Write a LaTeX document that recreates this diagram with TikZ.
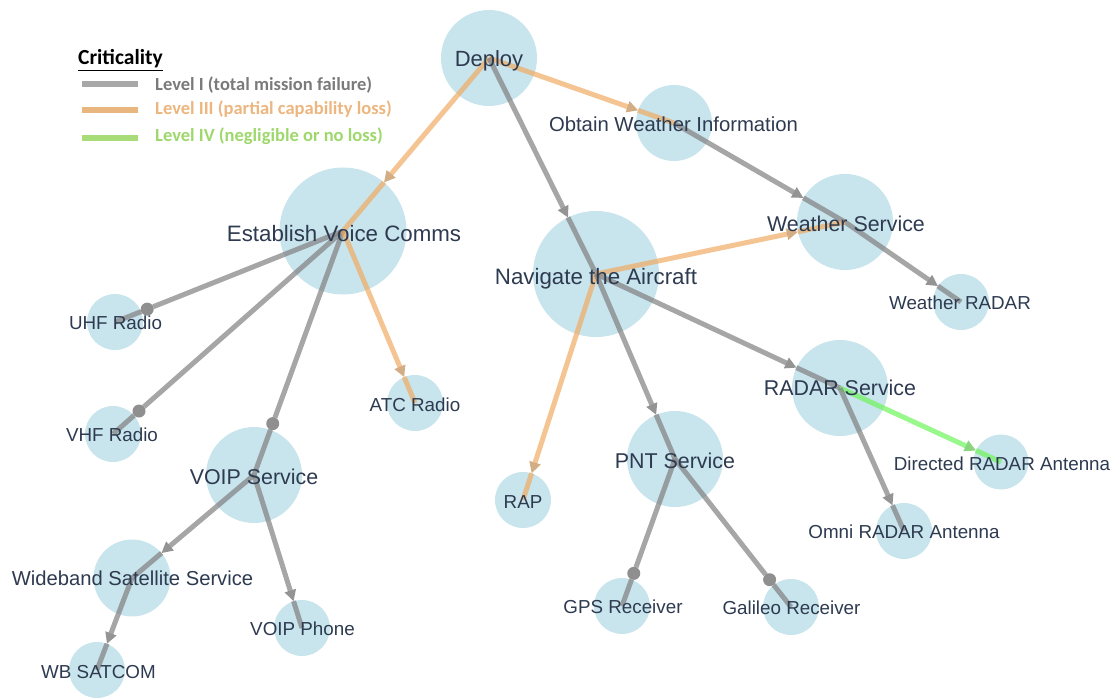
\documentclass[tikz,border=0pt]{standalone}
\usepackage{fontspec}
\setmainfont{Liberation Sans}
\newfontfamily\legendfont{Carlito}
\usetikzlibrary{arrows.meta}

\definecolor{bubble}{RGB}{200,228,236}
\definecolor{lvlone}{RGB}{128,128,128}
\definecolor{lvlthree}{RGB}{240,172,100}
\definecolor{lvlfour}{RGB}{110,245,90}
\definecolor{labeltext}{RGB}{45,58,80}
\definecolor{keyone}{RGB}{168,168,168}
\definecolor{keythree}{RGB}{233,182,128}
\definecolor{keyfour}{RGB}{168,220,120}
\definecolor{keyonetext}{RGB}{122,122,122}
\definecolor{keythreetext}{RGB}{236,182,126}
\definecolor{keyfourtext}{RGB}{158,216,108}

\tikzset{
  bubblenode/.style={circle, fill=bubble, inner sep=0pt, minimum size=#1},
  tag/.style={anchor=base, inner sep=0pt, text=labeltext,
    font=\fontsize{#1}{#1}\selectfont},
  link/.style={line width=5pt, opacity=0.7},
  keyline/.style={line width=6.3pt},
  keytext/.style={anchor=base west, inner sep=0pt,
    font=\legendfont\bfseries\fontsize{18.5}{18.5}\selectfont},
}

% A link runs from the source centre to the target centre; its tip sits
% on the border of the target bubble.
\newcommand\linkto[4]{%
  \path (#3.center) -- (#4) coordinate[pos=1] (#3-#4);
  \draw[link, draw=#1, -{#2}] (#3.center) -- (#3-#4);
  \draw[link, draw=#1] (#3-#4) -- (#4.center);
}
\newcommand\headlink[3]{\linkto{#1}{Triangle[length=11pt,width=12pt,line width=0pt,color=#1!80!black]}{#2}{#3}}
\newcommand\knoblink[3]{\linkto{#1}{Circle[length=13pt,line width=0pt,color=#1!75!black]}{#2}{#3}}

\begin{document}
\begin{tikzpicture}[x=1pt, y=-1pt]
\useasboundingbox (0,0) rectangle (1117,698);

% bubbles
\node[bubblenode=96pt]  (dep) at (489,58)  {};
\node[bubblenode=76pt]  (owi) at (674,123) {};
\node[bubblenode=127pt] (evc) at (343,231) {};
\node[bubblenode=96pt]  (wsv) at (845,222) {};
\node[bubblenode=126pt] (nav) at (596,274) {};
\node[bubblenode=56pt]  (wrd) at (961,302) {};
\node[bubblenode=56pt]  (uhf) at (115,322) {};
\node[bubblenode=96pt]  (rds) at (840,388) {};
\node[bubblenode=56pt]  (atc) at (415,403) {};
\node[bubblenode=56pt]  (vhf) at (113,434) {};
\node[bubblenode=96pt]  (vps) at (254,475) {};
\node[bubblenode=96pt]  (pnt) at (675,459) {};
\node[bubblenode=55pt]  (dra) at (1001,462) {};
\node[bubblenode=56pt]  (rap) at (523,500) {};
\node[bubblenode=56pt]  (omn) at (904,531) {};
\node[bubblenode=77pt]  (wbs) at (132,578) {};
\node[bubblenode=56pt]  (gps) at (622,606) {};
\node[bubblenode=56pt]  (gal) at (791,607) {};
\node[bubblenode=56pt]  (vph) at (302,628) {};
\node[bubblenode=56pt]  (wbc) at (97,670)  {};

% links
\headlink{lvlthree}{dep}{owi}
\headlink{lvlthree}{dep}{evc}
\headlink{lvlone}{dep}{nav}
\headlink{lvlone}{owi}{wsv}
\headlink{lvlone}{wsv}{wrd}
\headlink{lvlthree}{nav}{wsv}
\headlink{lvlthree}{nav}{rap}
\headlink{lvlone}{nav}{pnt}
\headlink{lvlone}{nav}{rds}
\headlink{lvlfour}{rds}{dra}
\headlink{lvlone}{rds}{omn}
\knoblink{lvlone}{pnt}{gps}
\knoblink{lvlone}{pnt}{gal}
\knoblink{lvlone}{evc}{uhf}
\knoblink{lvlone}{evc}{vhf}
\knoblink{lvlone}{evc}{vps}
\headlink{lvlthree}{evc}{atc}
\headlink{lvlone}{vps}{wbs}
\headlink{lvlone}{vps}{vph}
\headlink{lvlone}{wbs}{wbc}

% labels
\node[tag=22]   (dep-t) at (489,67)    {Deploy};
\node[tag=20.3] (owi-t) at (673.5,132) {Obtain Weather Information};
\node[tag=22.3] (evc-t) at (344,241)   {Establish Voice Comms};
\node[tag=21.4] (wsv-t) at (846,231)   {Weather Service};
\node[tag=22.3] (nav-t) at (596,284)   {Navigate the Aircraft};
\node[tag=18.8] (wrd-t) at (960,309)   {Weather RADAR};
\node[tag=18.8] (uhf-t) at (115.5,329) {UHF Radio};
\node[tag=21.4] (rds-t) at (840,395)   {RADAR Service};
\node[tag=18.8] (atc-t) at (415,411)   {ATC Radio};
\node[tag=18.8] (vhf-t) at (112,441)   {VHF Radio};
\node[tag=21.4] (vps-t) at (254,484)   {VOIP Service};
\node[tag=21.4] (pnt-t) at (675,468)   {PNT Service};
\node[tag=18.8] (dra-t) at (1002,470)  {Directed RADAR Antenna};
\node[tag=18.8] (rap-t) at (523,508)   {RAP};
\node[tag=18.8] (omn-t) at (904,538)   {Omni RADAR Antenna};
\node[tag=20.2] (wbs-t) at (132.5,585) {Wideband Satellite Service};
\node[tag=18.8] (gps-t) at (623,613)   {GPS Receiver};
\node[tag=18.8] (gal-t) at (791.5,614) {Galileo Receiver};
\node[tag=18.8] (vph-t) at (302.5,635) {VOIP Phone};
\node[tag=18.8] (wbc-t) at (98.5,678)  {WB SATCOM};

% criticality key
\node[keytext, text=black, font=\legendfont\bfseries\fontsize{21.5}{21.5}\selectfont]
  (key-title) at (78,65) {\underline{Criticality}};
\coordinate (k1a) at (82,84.3);  \coordinate (k1b) at (138,84.3);
\coordinate (k3a) at (82,109.7); \coordinate (k3b) at (138,109.7);
\coordinate (k4a) at (82,137.8); \coordinate (k4b) at (138,137.8);
\draw[keyline, keyone]   (k1a) -- (k1b);
\draw[keyline, keythree] (k3a) -- (k3b);
\draw[keyline, keyfour]  (k4a) -- (k4b);
\node[keytext, text=keyonetext]   (key-1) at (155,91)  {Level I (total mission failure)};
\node[keytext, text=keythreetext] (key-3) at (155,115) {Level III (partial capability loss)};
\node[keytext, text=keyfourtext]  (key-4) at (155,142) {Level IV (negligible or no loss)};
\end{tikzpicture}
\end{document}
